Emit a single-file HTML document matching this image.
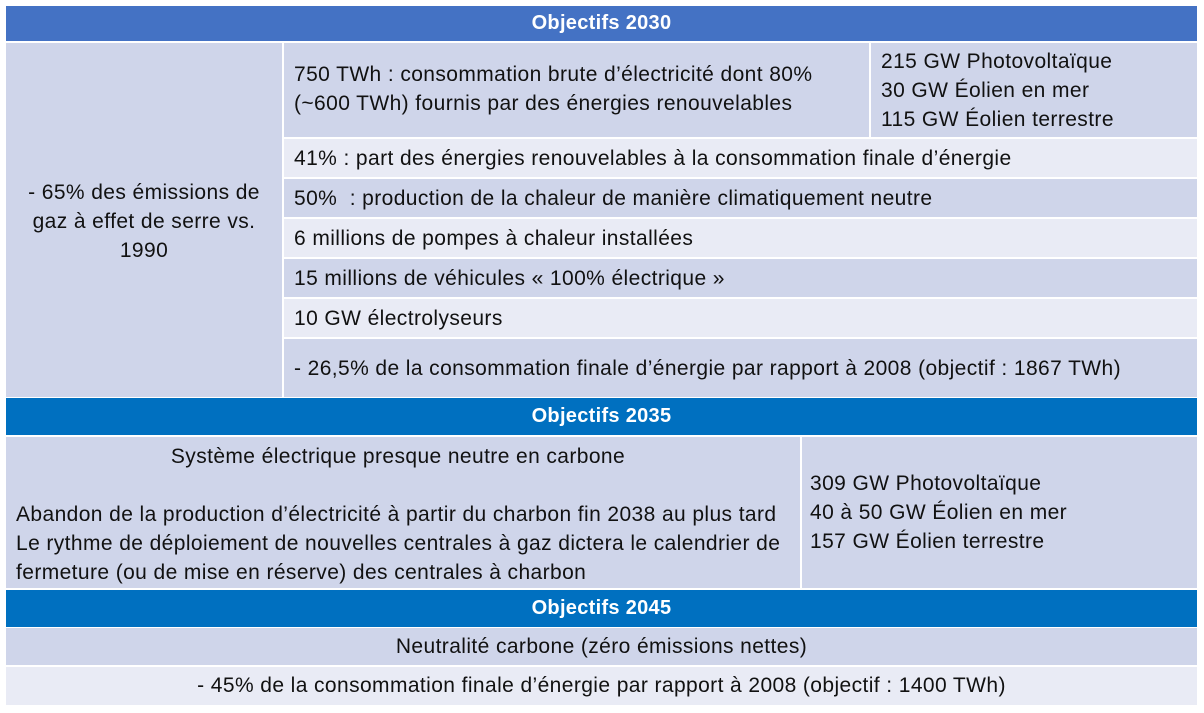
<!DOCTYPE html>
<html><head><meta charset="utf-8"><style>
body{margin:0;width:1204px;height:713px;background:#fff;position:relative;overflow:hidden;font-family:"Liberation Sans",sans-serif;font-size:21px;letter-spacing:0.4px;color:#111;}
.b{position:absolute;box-sizing:border-box;display:flex;align-items:center;white-space:nowrap;}
.h{color:#fff;font-weight:bold;justify-content:center;font-size:20px;letter-spacing:0.3px;}
.d{background:#CFD5EA;}
.l{background:#E9EBF5;}
.t{padding-left:10px;line-height:29px;}
.c{justify-content:center;text-align:center;}
</style></head><body>
<div class="b h" style="left:6px;top:6px;width:1191px;height:35px;background:#4472C4">Objectifs 2030</div>
<div class="b d c" style="left:6px;top:43px;width:276px;height:354px;line-height:29px;padding-top:3px">- 65% des émissions de<br>gaz à effet de serre vs.<br>1990</div>
<div class="b d t" style="left:284px;top:43px;width:585px;height:94px;padding-bottom:2px">750 TWh : consommation brute d’électricité dont 80%<br>(~600 TWh) fournis par des énergies renouvelables</div>
<div class="b d t" style="left:871px;top:43px;width:326px;height:94px">215 GW Photovoltaïque<br>30 GW Éolien en mer<br>115 GW Éolien terrestre</div>
<div class="b l t" style="left:284px;top:139px;width:913px;height:38px">41% : part des énergies renouvelables à la consommation finale d’énergie</div>
<div class="b d t" style="left:284px;top:179px;width:913px;height:38px">50%&nbsp; : production de la chaleur de manière climatiquement neutre</div>
<div class="b l t" style="left:284px;top:219px;width:913px;height:38px">6 millions de pompes à chaleur installées</div>
<div class="b d t" style="left:284px;top:259px;width:913px;height:38px">15 millions de véhicules « 100% électrique »</div>
<div class="b l t" style="left:284px;top:299px;width:913px;height:38px">10 GW électrolyseurs</div>
<div class="b d t" style="left:284px;top:339px;width:913px;height:58px">- 26,5% de la consommation finale d’énergie par rapport à 2008 (objectif : 1867 TWh)</div>
<div class="b h" style="left:6px;top:398px;width:1191px;height:37px;background:#0070C0">Objectifs 2035</div>
<div class="b d" style="left:6px;top:437px;width:794px;height:151px;display:block;padding:5px 0 0 10px;line-height:29px"><div style="text-align:center;width:784px;margin-left:-10px">Système électrique presque neutre en carbone</div><div style="height:29px"></div>Abandon de la production d’électricité à partir du charbon fin 2038 au plus tard<br>Le rythme de déploiement de nouvelles centrales à gaz dictera le calendrier de<br>fermeture (ou de mise en réserve) des centrales à charbon</div>
<div class="b d t" style="left:802px;top:437px;width:395px;height:151px;padding-left:8px">309 GW Photovoltaïque<br>40 à 50 GW Éolien en mer<br>157 GW Éolien terrestre</div>
<div class="b h" style="left:6px;top:590px;width:1191px;height:37px;background:#0070C0">Objectifs 2045</div>
<div class="b d c" style="left:6px;top:628px;width:1191px;height:37px">Neutralité carbone (zéro émissions nettes)</div>
<div class="b l c" style="left:6px;top:667px;width:1191px;height:38px">- 45% de la consommation finale d’énergie par rapport à 2008 (objectif : 1400 TWh)</div>
</body></html>
